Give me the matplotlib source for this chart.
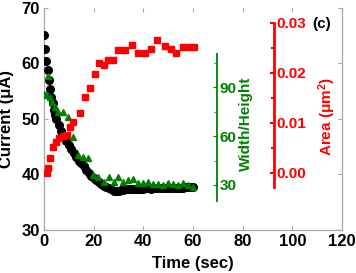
import matplotlib
matplotlib.use("Agg")
import matplotlib.pyplot as plt
from matplotlib.ticker import FixedLocator, FormatStrFormatter

# Courant (uA)
time_current = [0, 0.5, 1, 1.5, 2, 2.5, 3, 3.5, 4, 4.5, 5,
                6, 7, 8, 9, 10, 11, 12, 13, 14, 15, 16, 17, 18, 19, 20,
                21, 22, 23, 24, 25, 26, 27, 28, 29, 30, 31, 32, 33, 34, 35,
                36, 37, 38, 39, 40, 41, 42, 43, 44, 45, 46, 47, 48, 49, 50,
                51, 52, 53, 54, 55, 56, 57, 58, 59, 60]
current = [65.2, 62.7, 60.5, 58.8, 57.0, 55.4, 54.0, 52.8, 51.7, 50.7, 50.0,
           48.9, 47.9, 47.0, 46.1, 45.3, 44.6, 43.8, 43.1, 42.5, 42.0, 41.5, 40.9, 40.3, 39.8, 39.4,
           39.0, 38.6, 38.2, 37.9, 37.7, 37.5, 37.3, 37.1, 37.1, 37.1, 37.2, 37.2, 37.3, 37.3, 37.3,
           37.4, 37.4, 37.4, 37.4, 37.4, 37.5, 37.5, 37.4, 37.5, 37.5, 37.5, 37.5, 37.5, 37.5, 37.6,
           37.6, 37.5, 37.6, 37.6, 37.6, 37.6, 37.7, 37.7, 37.7, 37.7]

# Width/Height
time_ratio = [0, 0.8, 1.6, 2.4, 3.2, 4.5, 5.7, 7.7, 9.7, 11.7, 13.8, 15.8, 17.8,
              19.8, 21.9, 24, 26, 28, 30, 32, 34, 36, 38, 40, 42, 44, 46, 48,
              50, 52, 54, 56, 58, 60]
ratio = [85.7, 85.0, 96.5, 84.0, 80.8, 78.0, 75.0, 74.7, 71.6, 59.4, 48.4, 47.1, 46.5,
         36.1, 34.9, 31.8, 34.9, 31.8, 34.9, 31.8, 33.0, 33.5, 31.5, 31.5, 31.8, 30.5, 30.5, 30.0,
         31.2, 30.5, 30.0, 31.2, 30.0, 28.5]

# Area (um^2)
time_area = [1.2, 1.6, 2.4, 3.6, 4.9, 6.1, 7.7, 9.3, 10.5, 11.7, 14.6, 16.6, 18.6,
             20.6, 22.3, 24.3, 25.9, 27.9, 30.0, 32.8, 35.6, 38.0, 40.5, 42.9, 45.7,
             48.6, 51.0, 53.0, 55.9, 58.3, 60.3]
area = [0.0, 0.001, 0.003, 0.0052, 0.0062, 0.007, 0.0074, 0.0076, 0.0092, 0.0102, 0.012,
        0.0152, 0.017, 0.0198, 0.022, 0.0216, 0.0226, 0.0226, 0.0246, 0.0246, 0.0256, 0.024,
        0.024, 0.0248, 0.0266, 0.0254, 0.0248, 0.024, 0.0252, 0.0252, 0.0252]

plt.rcParams['font.family'] = ['Liberation Sans', 'DejaVu Sans']
plt.rcParams['font.weight'] = 'bold'
plt.rcParams['mathtext.fontset'] = 'custom'
plt.rcParams['mathtext.rm'] = 'Liberation Sans:bold'
plt.rcParams['mathtext.it'] = 'Liberation Sans:bold'

GREY = '#a8a8a8'
GREEN = '#008000'

fig = plt.figure(figsize=(3.56, 2.73), dpi=100)
ax = fig.add_axes([44 / 356, 1 - 230 / 273, 298 / 356, 222 / 273])
ax_g = ax.twinx()
ax_r = ax.twinx()

# Axe principal : courant
ax.plot(time_current, current, 'o', color='black', markersize=5.5, zorder=3)
ax.set_xlim(0, 120)
ax.set_ylim(30, 70)
ax.set_xticks(range(0, 121, 20))
ax.set_yticks(range(30, 71, 10))
ax.tick_params(direction='in', top=True, right=True, color=GREY, length=3,
               labelsize=12, pad=3)
for s in ['left', 'bottom', 'right']:
    ax.spines[s].set_color(GREY)
    ax.spines[s].set_linewidth(0.9)
ax.spines['top'].set_visible(False)
ax.set_xlabel('Time (sec)', fontsize=12, fontweight='bold')
ax.xaxis.set_label_coords(0.5, -0.118)
ax.set_ylabel('Current (μA)', fontsize=12, fontweight='bold')
ax.yaxis.set_label_coords(-0.1, 0.5)

# Axe vert : Width/Height
ax_g.plot(time_ratio, ratio, '^', color=GREEN, markersize=5)
ax_g.set_ylim(2.44, 138.4)
for s in ['left', 'top', 'bottom']:
    ax_g.spines[s].set_visible(False)
ax_g.spines['right'].set_position(('axes', 173 / 298))
ax_g.spines['right'].set_bounds(20, 110)
ax_g.spines['right'].set_color(GREEN)
ax_g.spines['right'].set_linewidth(1.3)
ax_g.yaxis.set_major_locator(FixedLocator([30, 60, 90]))
ax_g.yaxis.set_minor_locator(FixedLocator([45, 75, 105]))
ax_g.tick_params(axis='y', which='both', direction='in', color=GREEN,
                 labelcolor=GREEN, labelsize=11, pad=2)
ax_g.tick_params(axis='y', which='major', length=3)
ax_g.tick_params(axis='y', which='minor', length=2)
ax.text(0.679, 0.477, 'Width/Height', transform=ax.transAxes, rotation=90,
        ha='center', va='center', color=GREEN, fontsize=11, fontweight='bold')

# Axe rouge : Area
ax_r.plot(time_area, area, 's', color='red', markersize=5)
ax_r.set_ylim(-0.0114, 0.033)
for s in ['left', 'top', 'bottom']:
    ax_r.spines[s].set_visible(False)
ax_r.spines['right'].set_position(('axes', 230 / 298))
ax_r.spines['right'].set_bounds(-0.0028, 0.03)
ax_r.spines['right'].set_color('red')
ax_r.spines['right'].set_linewidth(2)
ax_r.yaxis.set_major_locator(FixedLocator([0, 0.01, 0.02, 0.03]))
ax_r.yaxis.set_minor_locator(FixedLocator([0.005, 0.015, 0.025]))
ax_r.yaxis.set_major_formatter(FormatStrFormatter('%.2f'))
ax_r.tick_params(axis='y', which='both', direction='in', color='red',
                 labelcolor='red', labelsize=11, pad=2)
ax_r.tick_params(axis='y', which='major', length=3, width=1.5)
ax_r.tick_params(axis='y', which='minor', length=2, width=1.5)
ax.text(0.95, 0.509, 'Area (μm$^{2}$)', transform=ax.transAxes, rotation=90,
        ha='center', va='center', color='red', fontsize=11, fontweight='bold')

ax.text(0.933, 0.928, '(c)', transform=ax.transAxes, ha='center', va='center',
        fontsize=11, fontweight='bold')

fig.savefig('out.png', dpi=100)
